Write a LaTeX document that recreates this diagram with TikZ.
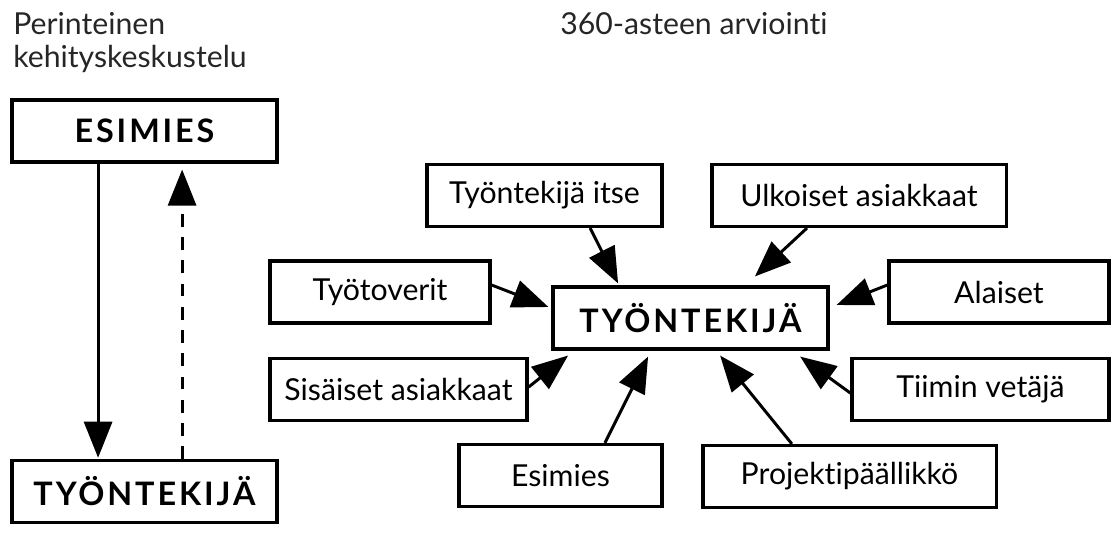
\documentclass[tikz,border=0pt]{standalone}
\usepackage{fontspec}
\setmainfont{Lato}[Ligatures={NoCommon}]
\newfontfamily\capsfont[LetterSpace=9, Ligatures={NoCommon}]{Lato Bold}
\usepackage{tikz}
\usetikzlibrary{arrows.meta,positioning,calc}
\tikzstyle{box} = [rectangle, draw, line width=2.2pt, minimum height=1.55cm, inner sep=0pt,
  font=\fontsize{21.5}{25}\selectfont]
\tikzstyle{feed} = [-{Triangle[length=0.9cm,width=0.7cm]}, line width=2.1pt]

\begin{document}
\begin{tikzpicture}[x=0.025cm, y=-0.025cm]
    \useasboundingbox (0,0) rectangle (1112,536);
    \tikzstyle{title} = [anchor=base west, inner sep=0pt, text=black!85, font=\fontsize{21.5}{25}\selectfont]
    \tikzstyle{main} = [box, font=\fontsize{23}{27}\selectfont\capsfont]
    % perinteinen
    \node[title] (trad1) at (13,35) {Perinteinen};
    \node[title] (trad2) at (13,68) {kehityskeskustelu};
    \node[main, minimum width=6.625cm] (boss) at (144.5,131) {ESIMIES};
    \node[main, minimum width=6.625cm] (worker) at (144.5,491.5) {TYÖNTEKIJÄ};
    \draw[feed] ([xshift=-1.16cm]boss.south) -- ([xshift=-1.16cm, yshift=0.03cm]worker.north);
    \draw[feed, dash pattern=on 0.32cm off 0.26cm] ([xshift=0.94cm]worker.north) -- ([xshift=0.94cm, yshift=-0.15cm]boss.south);
    % 360
    \node[title] (deg) at (560,35) {360-asteen arviointi};
    \node[main, minimum width=6.875cm] (emp) at (690.5,318) {TYÖNTEKIJÄ};
    \node[box, minimum width=5.875cm] (self) at (544.5,195.5) {Työntekijä itse};
    \node[box, minimum width=7.35cm] (ext) at (859,195.5) {Ulkoiset asiakkaat};
    \node[box, minimum width=5.5cm] (peers) at (380,292) {Työtoverit};
    \node[box, minimum width=5.5cm] (subs) at (999,292) {Alaiset};
    \node[box, minimum width=6.425cm] (int) at (398.5,389.5) {Sisäiset asiakkaat};
    \node[box, minimum width=6.425cm] (lead) at (980.5,389.5) {Tiimin vetäjä};
    \node[box, minimum width=5.075cm] (sup) at (560.5,475.5) {Esimies};
    \node[box, minimum width=7.325cm] (pm) at (849.5,476.5) {Projektipäällikkö};
    \draw[feed] ([xshift=1.14cm]self.south) -- ([xshift=-1.81cm, yshift=0.05cm]emp.north);
    \draw[feed] ([xshift=-1.3cm]ext.south) -- ([xshift=1.61cm, yshift=0.225cm]emp.north);
    \draw[feed] ([yshift=0.175cm]peers.east) -- ([xshift=-0.075cm, yshift=0.275cm]emp.west);
    \draw[feed] ([yshift=0.175cm]subs.west) -- ([xshift=0.175cm, yshift=0.325cm]emp.east);
    \draw[feed] ([yshift=0.06cm]int.east) -- ([xshift=-3.06cm, yshift=-0.125cm]emp.south);
    \draw[feed] ([yshift=-0.09cm]lead.west) -- ([xshift=2.74cm, yshift=-0.15cm]emp.south);
    \draw[feed] ([xshift=1.11cm]sup.north) -- ([xshift=-1.06cm, yshift=-0.15cm]emp.south);
    \draw[feed] ([xshift=-1.44cm]pm.north) -- ([xshift=0.74cm, yshift=-0.125cm]emp.south);
\end{tikzpicture}
\end{document}
